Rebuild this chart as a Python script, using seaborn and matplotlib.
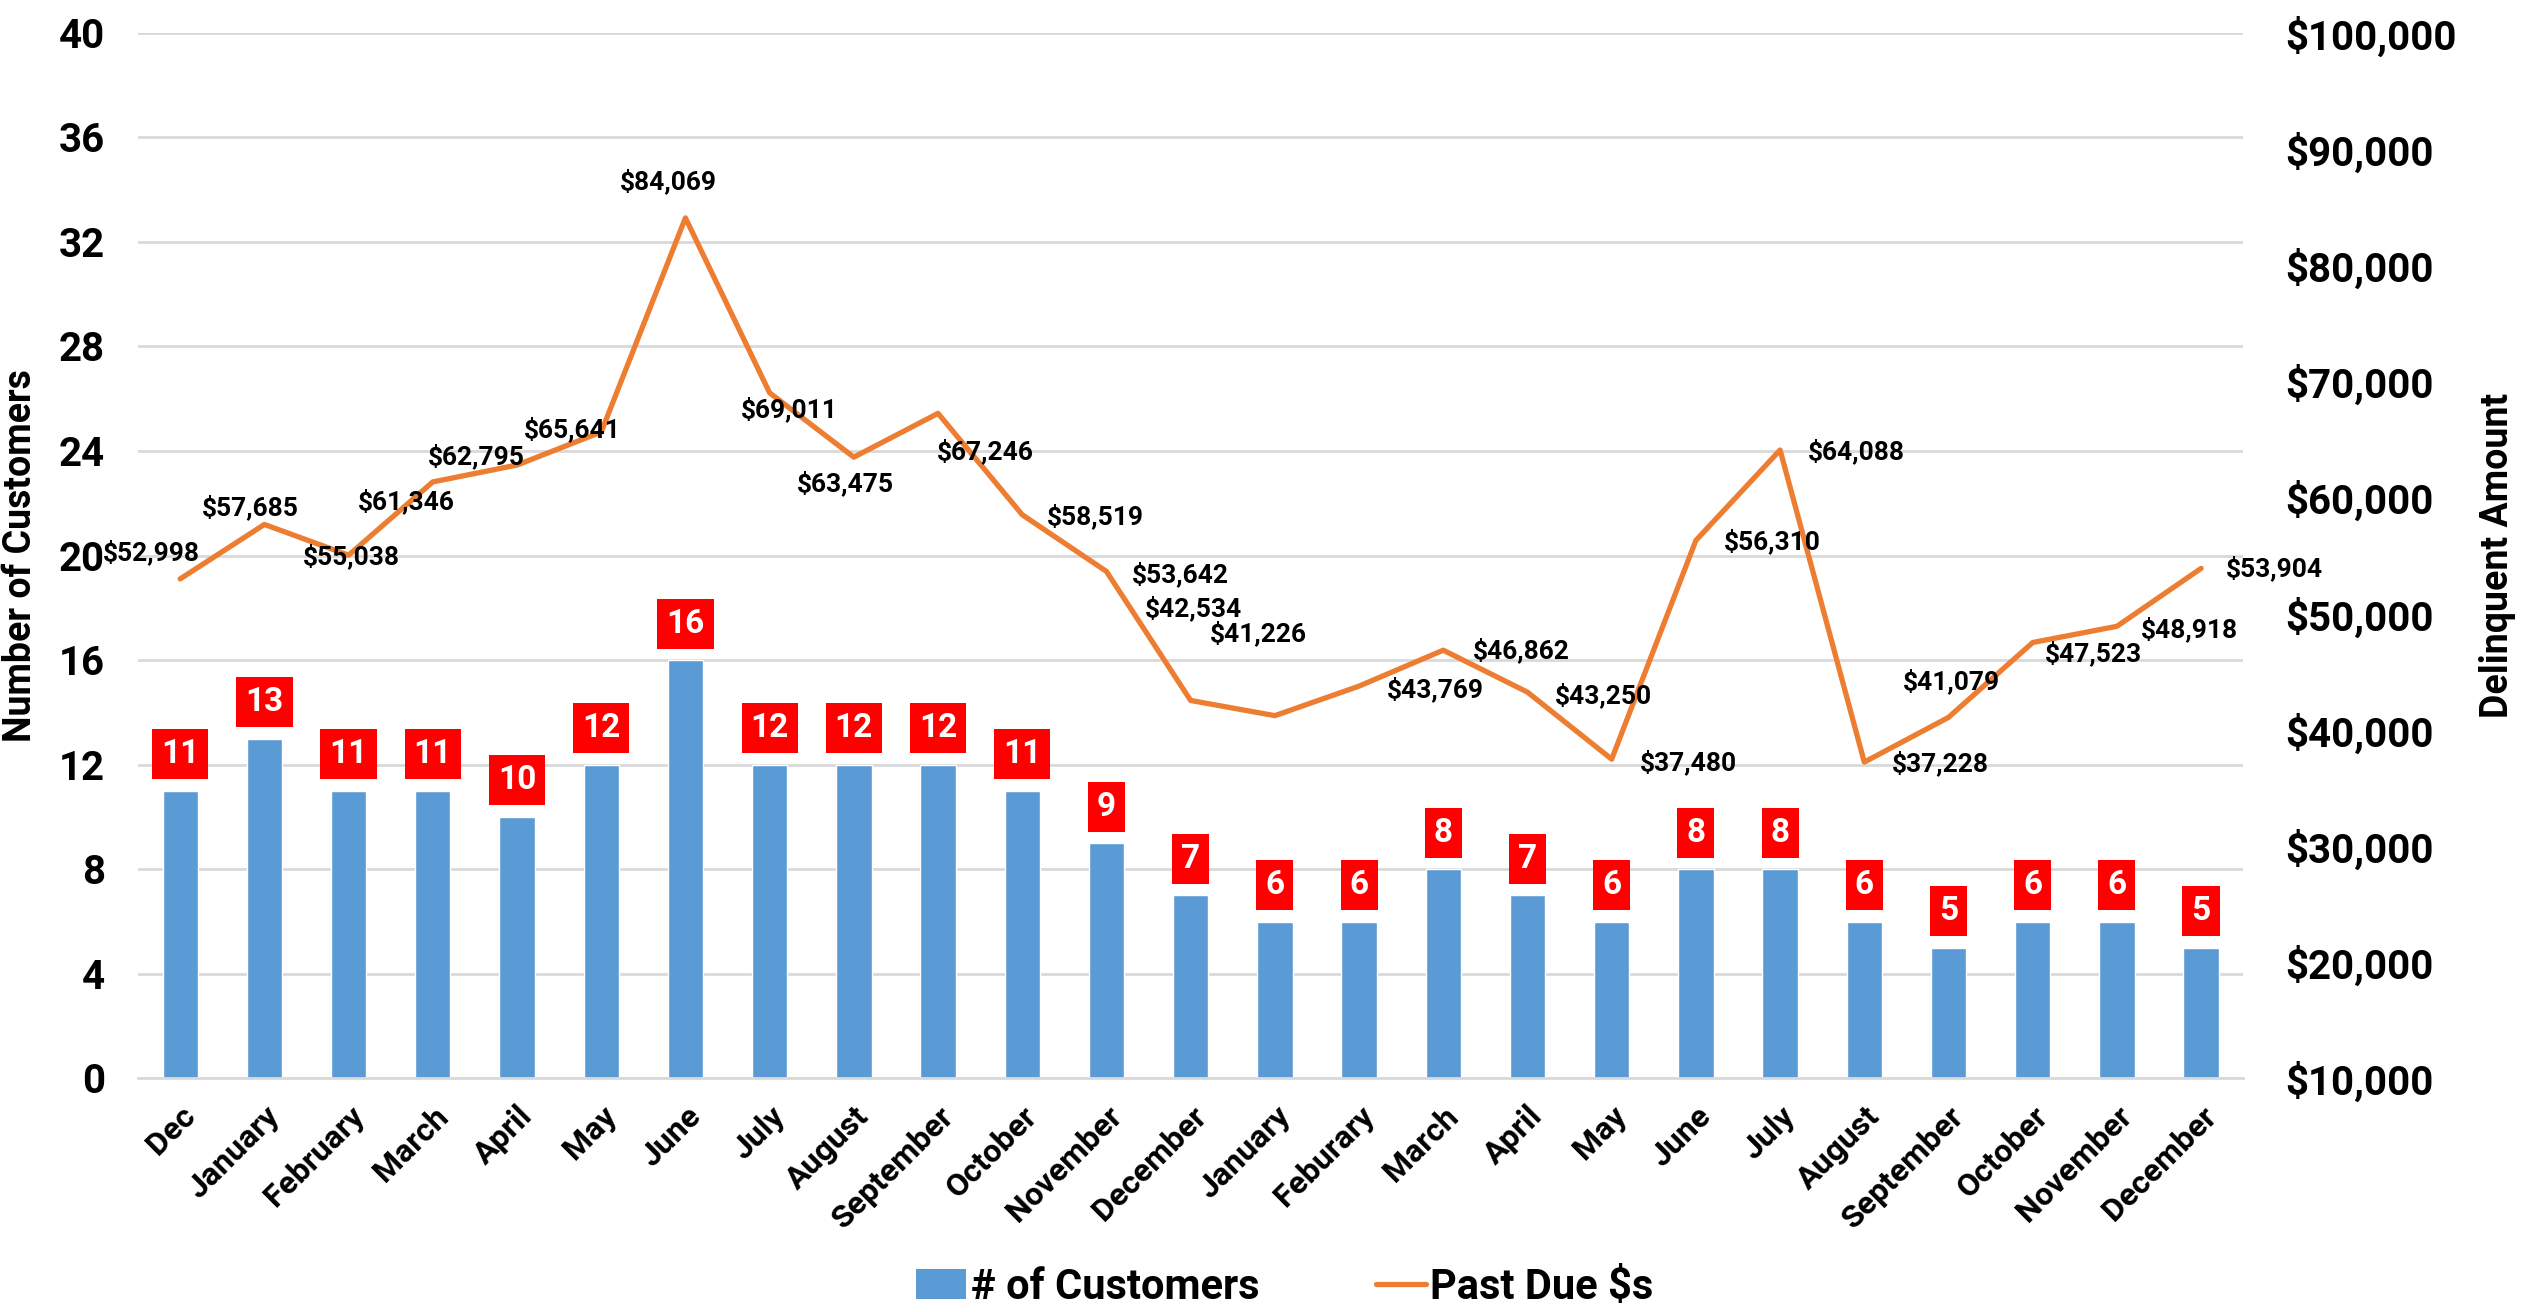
import numpy as np
import pandas as pd
import matplotlib
matplotlib.use("Agg")
import matplotlib.pyplot as plt
import seaborn as sns
from matplotlib.patches import Patch
from matplotlib.lines import Line2D
from matplotlib.ticker import FuncFormatter, MultipleLocator

# ---- data ----
months = ["Dec", "January", "February", "March", "April", "May", "June", "July",
          "August", "September", "October", "November", "December", "January",
          "Feburary", "March", "April", "May", "June", "July", "August",
          "September", "October", "November", "December"]
customers = [11, 13, 11, 11, 10, 12, 16, 12, 12, 12, 11, 9, 7, 6, 6, 8, 7, 6, 8, 8, 6, 5, 6, 6, 5]
past_due = [52998, 57685, 55038, 61346, 62795, 65641, 84069, 69011, 63475, 67246,
            58519, 53642, 42534, 41226, 43769, 46862, 43250, 37480, 56310, 64088,
            37228, 41079, 47523, 48918, 53904]

# placement of the dollar annotations: centre offset from the point, in points
amount_label_offsets = [(-21, 19), (-10, 12), (2, -1), (-19, -14), (-29, 6), (-21, 2),
                        (-12, 26), (14, -12), (-6, -19), (34, -27), (53, -1), (53, -2),
                        (2, 66), (-12, 59), (55, -2), (56, 0), (55, -2), (55, -2),
                        (55, -1), (55, -1), (55, -1), (2, 26), (44, -8), (52, -2),
                        (53, 0)]

BLUE = "#5B9BD5"
ORANGE = "#ED7D31"
GRID = "#D9D9D9"

sns.set_theme(style="white")
plt.rcParams["font.family"] = ["Roboto", "DejaVu Sans"]
plt.rcParams["font.weight"] = "bold"
plt.rcParams["text.color"] = "black"
plt.rcParams["axes.labelcolor"] = "black"
plt.rcParams["xtick.color"] = "black"
plt.rcParams["ytick.color"] = "black"

fig = plt.figure(figsize=(25.29, 13.12), dpi=100)
ax = fig.add_axes([0.0546, 0.178, 0.8324, 0.797])

df = pd.DataFrame({"pos": np.arange(len(months)), "customers": customers, "past_due": past_due})

sns.barplot(data=df, x="pos", y="customers", color=BLUE, width=0.42,
            saturation=1, ax=ax, zorder=2)

ax.set_ylim(0, 40)
ax.set_xlim(-0.5, len(months) - 0.5)
ax.yaxis.set_major_locator(MultipleLocator(4))
ax.grid(axis="y", color=GRID, linewidth=2, zorder=0)
ax.set_axisbelow(True)
for s in ["top", "right", "left"]:
    ax.spines[s].set_visible(False)
ax.spines["bottom"].set_color(GRID)
ax.spines["bottom"].set_linewidth(2)

ax.set_xticks(np.arange(len(months)))
ax.set_xticklabels(months, rotation=45, ha="right", va="top",
                   rotation_mode="anchor", fontsize=23, fontweight="bold")
ax.set_xticks(np.arange(len(months) + 1) - 0.5, minor=True)
ax.tick_params(axis="x", which="major", length=0, pad=16)
ax.tick_params(axis="x", which="minor", length=12, width=2, color=GRID, direction="out")
ax.tick_params(axis="y", labelsize=29, length=0, pad=24)
for lab in ax.get_yticklabels():
    lab.set_fontweight("bold")
ax.set_xlabel("")
ax.set_ylabel("Number of Customers", fontsize=27, fontweight="bold", labelpad=14)

# red value boxes above each bar
for i, v in enumerate(customers):
    ax.text(i, v + 1.4, str(v), ha="center", va="center", color="white",
            fontsize=24, fontweight="bold", zorder=5,
            bbox=dict(boxstyle="square,pad=0.27", fc="#FF0000", ec="none"))

# past due amounts on the secondary axis
ax2 = ax.twinx()
sns.lineplot(data=df, x="pos", y="past_due", color=ORANGE, linewidth=3.8, ax=ax2,
             zorder=3)
ax2.set_ylim(10000, 100000)
ax2.set_xlim(-0.5, len(months) - 0.5)
ax2.yaxis.set_major_locator(MultipleLocator(10000))
ax2.yaxis.set_major_formatter(FuncFormatter(lambda v, p: f"${v:,.0f}"))
ax2.grid(False)
for s in ["top", "right", "left", "bottom"]:
    ax2.spines[s].set_visible(False)
ax2.tick_params(axis="y", labelsize=29, length=0, pad=30)
for lab in ax2.get_yticklabels():
    lab.set_fontweight("bold")
ax2.set_ylabel("Delinquent Amount", fontsize=27, fontweight="bold", labelpad=16)
ax2.set_xlabel("")

for i, v in enumerate(past_due):
    dx, dy = amount_label_offsets[i]
    ax2.annotate(f"${v:,}", (i, v), xytext=(dx, dy), textcoords="offset points",
                 ha="center", va="center", fontsize=19, fontweight="bold",
                 color="black", zorder=6)

handles = [Patch(facecolor=BLUE, edgecolor="none"),
           Line2D([0], [0], color=ORANGE, linewidth=3.8)]
fig.legend(handles, ["# of Customers", "Past Due $s"], loc="center",
           bbox_to_anchor=(0.508, 0.019), ncol=2, frameon=False,
           prop={"size": 30, "weight": "bold"}, handlelength=1.2,
           handletextpad=0.1, columnspacing=2.8)

fig.savefig("out.png", dpi=100)
